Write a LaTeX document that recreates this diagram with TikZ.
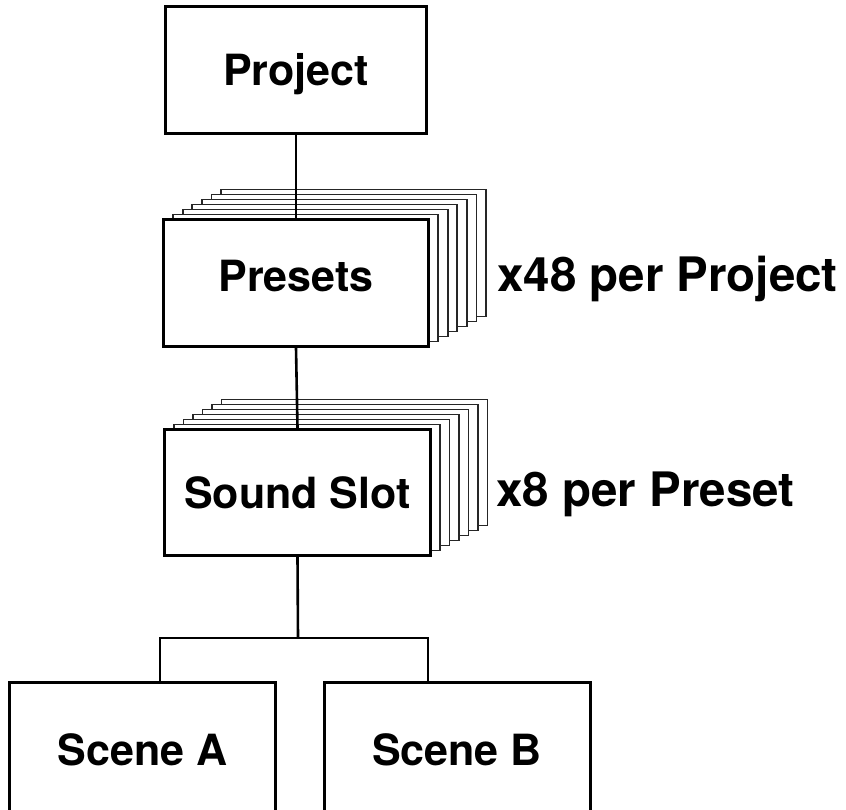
\documentclass[tikz,border=0pt]{standalone}
\usepackage{fontspec}
\setmainfont{TeX Gyre Heros}
\begin{document}
\begin{tikzpicture}[x=1pt,y=-1pt,
  txt/.style={font=\fontsize{43}{50}\selectfont\bfseries},
  box/.style={txt,draw=black,line width=3pt,fill=white,inner sep=0pt,text height=31pt,text depth=0pt,minimum width=265pt,minimum height=127pt},
  layer/.style={draw=black!85,line width=1.8pt,fill=white,inner sep=0pt,minimum width=265pt,minimum height=127pt},
  lbl/.style={font=\fontsize{47.5}{54}\selectfont\bfseries,inner sep=0pt,anchor=base west},
  wire/.style={line width=2.6pt,draw=black}]
\useasboundingbox (0,0) rectangle (846,809);
\clip (0,0) rectangle (846,809);

\node[box,minimum width=261pt] (project) at (296,70) {Project};

\foreach \i in {6,5,...,1}
  \node[layer] (presets\i) at ({296+\i*9.6},{283-\i*5}) {};
\node[box,text depth=14pt] (presets) at (296,283) {Presets};

\foreach \i in {6,5,...,1}
  \node[layer,minimum width=266pt,minimum height=126pt] (sound\i) at ({297.5+\i*9.5},{492.5-\i*5}) {};
\node[box,minimum width=266pt,minimum height=126pt] (sound) at (297.5,492.5) {Sound Slot};

\node[box,minimum width=266pt,minimum height=134pt] (sceneA) at (142.5,749.5) {Scene A};
\node[box,minimum width=266pt,minimum height=134pt] (sceneB) at (457,749.5) {Scene B};

\node[lbl] (lblA) at (497,291) {x48 per Project};
\node[lbl] (lblB) at (496,506) {x8 per Preset};

\coordinate (busL) at (160,638);
\coordinate (busR) at (428,638);
\coordinate (busM) at (298,638);

\draw[wire] (project.south) -- (presets.north);
\draw[wire] (presets.south) -- (sound.north);
\draw[wire] (sound.south) -- (busM);
\draw[wire,line cap=rect] (busL |- sceneA.north) -- (busL) -- (busR) -- (busR |- sceneB.north);
\end{tikzpicture}
\end{document}
